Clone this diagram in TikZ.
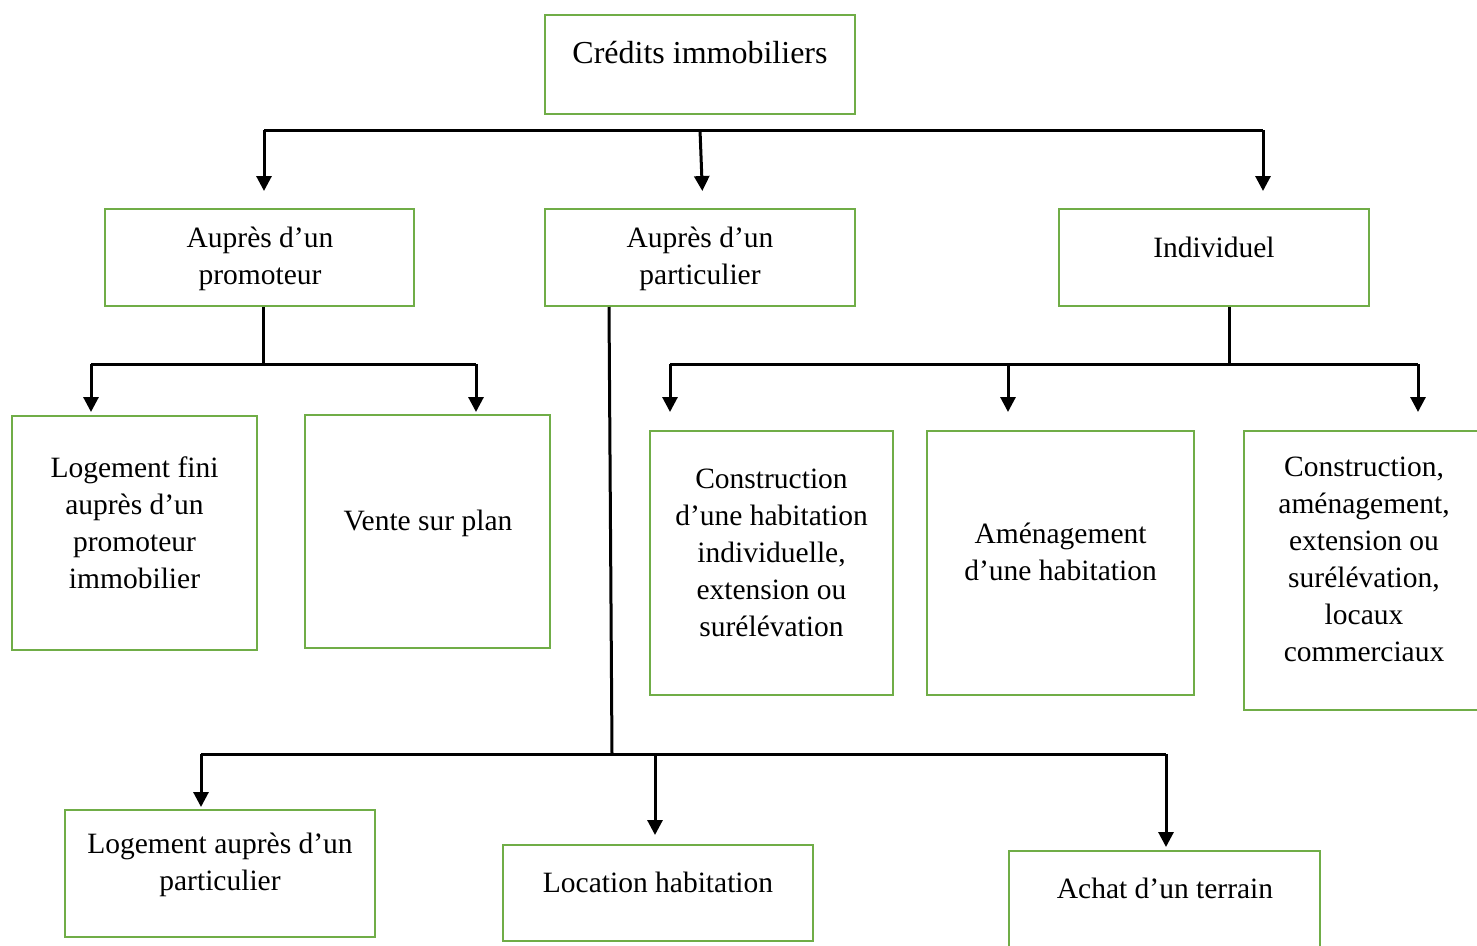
\documentclass[tikz,border=0pt]{standalone}
\usepackage{fontspec}
\setmainfont{Liberation Serif}
\usetikzlibrary{arrows.meta,calc}
\definecolor{boxgreen}{RGB}{112,173,71}
\begin{document}
\begin{tikzpicture}[x=1pt,y=-1pt,
  box/.style={draw=boxgreen,line width=2pt,rectangle,inner sep=0pt,fill=none},
  txt/.style={align=center,inner sep=0pt,font=\fontsize{29.5}{37}\selectfont},
  bigtxt/.style={txt,font=\fontsize{32}{37}\selectfont},
  wire/.style={line width=3pt,black},
  arr/.style={line width=3pt,black,-{Triangle[width=15pt,length=15pt]}}]
\useasboundingbox (0,0) rectangle (1477,945);
\clip (0,0) rectangle (1477,945);
% boxes
\node[box,minimum width=310,minimum height=99] (top) at (700,64.5) {};
\node[box,minimum width=309,minimum height=97] (a1) at (259.5,257.5) {};
\node[box,minimum width=310,minimum height=97] (a2) at (700,257.5) {};
\node[box,minimum width=310,minimum height=97] (a3) at (1214,257.5) {};
\node[box,minimum width=245,minimum height=234] (b1) at (134.5,533) {};
\node[box,minimum width=245,minimum height=233] (b2) at (427.5,531.5) {};
\node[box,minimum width=243,minimum height=264] (c1) at (771.5,563) {};
\node[box,minimum width=267,minimum height=264] (c2) at (1060.5,563) {};
\node[box,minimum width=240,minimum height=279] (c3) at (1364,570.5) {};
\node[box,minimum width=310,minimum height=127] (d1) at (220,873.5) {};
\node[box,minimum width=310,minimum height=96] (d2) at (658,893) {};
\node[box,minimum width=311,minimum height=110] (d3) at (1164.5,906) {};
% texts
\node[bigtxt] (ttop) at (700,53) {Crédits immobiliers};
\node[txt] (ta1) at (260,259) {Auprès d’un\\promoteur};
\node[txt] (ta2) at (700,258.5) {Auprès d’un\\particulier};
\node[txt] (ta3) at (1214,247) {Individuel};
\node[txt] (tb1) at (134.5,523) {Logement fini\\auprès d’un\\promoteur\\immobilier};
\node[txt] (tb2) at (428,523.5) {Vente sur plan};
\node[txt] (tc1) at (771.5,552.5) {Construction\\d’une habitation\\individuelle,\\extension ou\\surélévation};
\node[txt] (tc2) at (1060.5,552) {Aménagement\\d’une habitation};
\node[txt] (tc3) at (1364,559.5) {Construction,\\aménagement,\\extension ou\\surélévation,\\locaux\\commerciaux};
\node[txt] (td1) at (220,865) {Logement auprès d’un\\particulier};
\node[txt] (td2) at (658,882) {Location habitation};
\node[txt] (td3) at (1165,888) {Achat d’un terrain};
% top level bus
\coordinate (t1) at (264,130);
\coordinate (t2) at (700,130);
\coordinate (t3) at (1263,130);
\draw[wire] (t1) -- (t3);
\draw[arr,shorten >=17pt] (t1) -- (t1 |- a1.north);
\draw[arr,shorten >=17pt] (t2) -- ($(t2 |- a2.north)+(3,0)$);
\draw[arr,shorten >=17pt] (t3) -- (t3 |- a3.north);
% promoteur branch
\coordinate (p0) at (263,364);
\coordinate (p1) at (91,364);
\coordinate (p2) at (476,364);
\draw[wire] (p0 |- a1.south) -- (p0);
\draw[wire] (p1) -- (p2);
\draw[arr,shorten >=3pt] (p1) -- (p1 |- b1.north);
\draw[arr,shorten >=2pt] (p2) -- (p2 |- b2.north);
% particulier branch
\coordinate (q0) at (612,754);
\coordinate (q1) at (201,754);
\coordinate (q2) at (655,754);
\coordinate (q3) at (1166,754);
\draw[wire] ($(a2.south)+(-91,0)$) -- (q0);
\draw[wire] (q1) -- (q3);
\draw[arr,shorten >=2pt] (q1) -- (q1 |- d1.north);
\draw[arr,shorten >=9pt] (q2) -- (q2 |- d2.north);
\draw[arr,shorten >=3pt] (q3) -- (q3 |- d3.north);
% individuel branch
\coordinate (r0) at (1229,364);
\coordinate (r1) at (670,364);
\coordinate (r2) at (1008,364);
\coordinate (r3) at (1418,364);
\draw[wire] (r0 |- a3.south) -- (r0);
\draw[wire] (r1) -- (r3);
\draw[arr,shorten >=18pt] (r1) -- (r1 |- c1.north);
\draw[arr,shorten >=18pt] (r2) -- (r2 |- c2.north);
\draw[arr,shorten >=18pt] (r3) -- (r3 |- c3.north);
\end{tikzpicture}
\end{document}
